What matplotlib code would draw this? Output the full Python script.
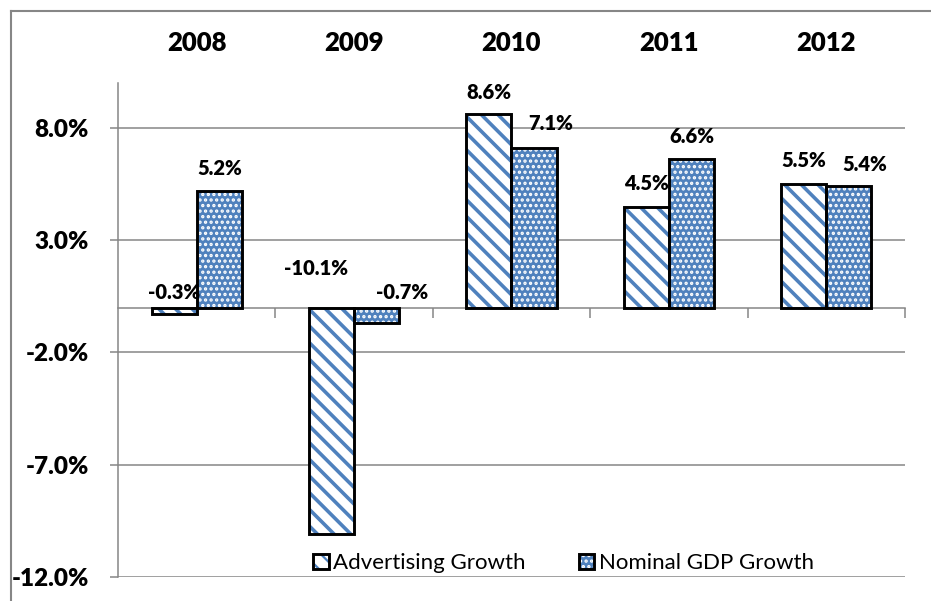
import matplotlib
matplotlib.use("Agg")
import matplotlib.pyplot as plt
from matplotlib.patches import Patch
from matplotlib.lines import Line2D
import numpy as np

years = ["2008", "2009", "2010", "2011", "2012"]
advertising = [-0.3, -10.1, 8.6, 4.5, 5.5]
gdp = [5.2, -0.7, 7.1, 6.6, 5.4]
series_names = ["Advertising Growth", "Nominal GDP Growth"]
yticks = [-12, -7, -2, 3, 8]

# label nudges in pixels (dx, dy) relative to bar end / zero line
adv_off = [(0, 15), (-16, 39), (0, 22), (0, 23), (0, 24)]
gdp_off = [(0, 22), (25, 15), (17, 25), (0, 23), (16, 22)]

blue = "#4F81BD"
grey = "#868686"

plt.rcParams["font.family"] = ["Lato", "DejaVu Sans"]
plt.rcParams["hatch.linewidth"] = 2.6

fig = plt.figure(figsize=(9.31, 6.01), dpi=100)
ax = fig.add_axes([118 / 931, 1 - 577 / 601, 787 / 931, 494 / 601])

x = np.arange(len(years))
w = 0.287

# hatch layer then black outline
ax.bar(x - w / 2, advertising, w, facecolor="white", edgecolor=blue, hatch="\\\\", lw=0, zorder=2)
plt.rcParams["hatch.linewidth"] = 1.6
ax.bar(x + w / 2, gdp, w, facecolor=blue, edgecolor="white", hatch="...", lw=0, zorder=2)
ax.bar(x - w / 2, advertising, w, fill=False, edgecolor="black", lw=2.1, zorder=3)
ax.bar(x + w / 2, gdp, w, fill=False, edgecolor="black", lw=2.1, zorder=3)

def put_labels(xs, vals, offs):
    for xi, v, (dx, dy) in zip(xs, vals, offs):
        base = max(v, 0)
        ax.annotate(f"{v:.1f}%", (xi, base), xytext=(dx * 0.72, dy * 0.72),
                    textcoords="offset points", ha="center", va="center",
                    fontsize=14.5, fontweight="heavy", zorder=5)

put_labels(x - w / 2, advertising, adv_off)
put_labels(x + w / 2, gdp, gdp_off)

ax.set_xlim(-0.5, 4.5)
ax.set_ylim(-12, 10)
ax.set_yticks(yticks)
ax.set_yticklabels([f"{t:.1f}%" for t in yticks])
ax.yaxis.grid(True, color=grey, lw=1.1, zorder=0)
ax.set_axisbelow(True)
ax.tick_params(axis="y", length=6, color=grey, width=1.1, pad=15, labelsize=17.5)

ax.spines["top"].set_visible(False)
ax.spines["right"].set_visible(False)
ax.spines["left"].set_color(grey)
ax.spines["left"].set_linewidth(1.1)
ax.spines["bottom"].set_position(("data", 0))
ax.spines["bottom"].set_color(grey)
ax.spines["bottom"].set_linewidth(1.1)
ax.set_xticks(x + 0.5)
ax.set_xticklabels([])
ax.tick_params(axis="x", direction="out", length=7, color=grey, width=1.1)

for lab in ax.get_yticklabels():
    lab.set_fontweight("heavy")

for xi, yr in zip(x, years):
    ax.text(xi, 1.081, yr, transform=ax.get_xaxis_transform(), ha="center", va="center",
            fontsize=18.5, fontweight="heavy")

h_adv = (Patch(facecolor="white", edgecolor=blue, hatch="\\\\", lw=0),
         Patch(fill=False, edgecolor="black", lw=2.1))
h_gdp = (Patch(facecolor=blue, edgecolor="white", hatch="...", lw=0),
         Patch(fill=False, edgecolor="black", lw=2.1))
ax.legend([h_adv, h_gdp], series_names, loc="center", bbox_to_anchor=(0.566, 0.028),
          ncol=2, frameon=False, fontsize=16, handlelength=0.7, handleheight=0.7,
          handletextpad=0.2, columnspacing=2.4, borderaxespad=0)

# outer chart border (left and top visible)
fig.add_artist(Line2D([11 / 931, 11 / 931], [0, 1 - 11 / 601], color=grey, lw=1.5))
fig.add_artist(Line2D([11 / 931, 1], [1 - 11 / 601, 1 - 11 / 601], color=grey, lw=1.5))

fig.savefig("out.png", dpi=100)
